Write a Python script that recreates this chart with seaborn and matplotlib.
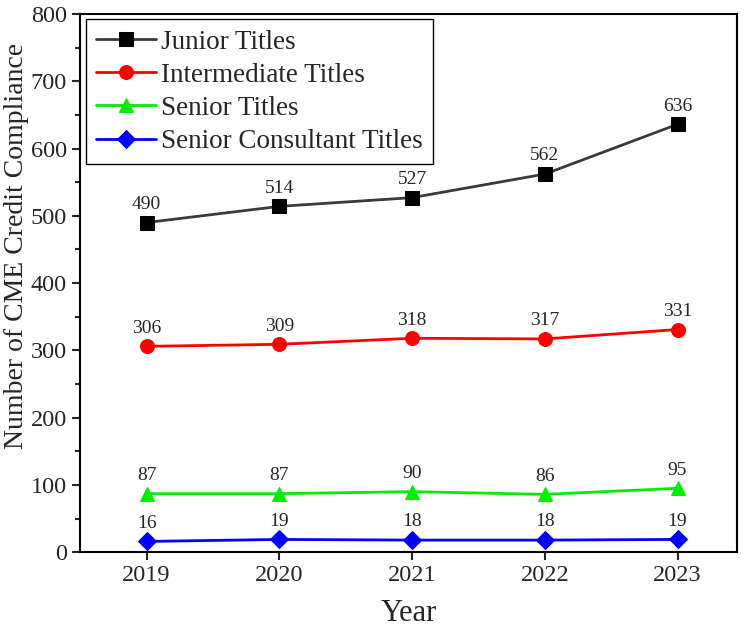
import pandas as pd
import matplotlib
matplotlib.use("Agg")
import matplotlib.pyplot as plt
import seaborn as sns
from matplotlib.ticker import MultipleLocator

years = [2019, 2020, 2021, 2022, 2023]
junior = [490, 514, 527, 562, 636]
intermediate = [306, 309, 318, 317, 331]
senior = [87, 87, 90, 86, 95]
senior_consultant = [16, 19, 18, 18, 19]

series_names = ["Junior Titles", "Intermediate Titles", "Senior Titles", "Senior Consultant Titles"]
series_values = [junior, intermediate, senior, senior_consultant]
colors = ["#3a3a3a", "#ff0000", "#00ee00", "#0000ff"]
marker_colors = ["#000000", "#ff0000", "#00ee00", "#0000ff"]
markers = ["s", "o", "^", "D"]

rows = []
for name, vals in zip(series_names, series_values):
    for y, v in zip(years, vals):
        rows.append({"Year": y, "Count": v, "Series": name})
df = pd.DataFrame(rows)

sns.set_style("ticks")
plt.rcParams["font.family"] = ["Liberation Serif", "DejaVu Serif"]

fig = plt.figure(figsize=(7.5, 6.34), dpi=100)
ax = fig.add_axes([0.107, 0.129, 0.876, 0.849])

for name, vals, c, mc, m in zip(series_names, series_values, colors, marker_colors, markers):
    sub = df[df["Series"] == name]
    sns.lineplot(data=sub, x="Year", y="Count", ax=ax, color=c, marker=m,
                 markersize=10 if m != "D" else 9, markerfacecolor=mc,
                 markeredgecolor=mc, linewidth=2, label=name)
    for x, v in zip(years, vals):
        ax.annotate(str(v), (x, v), textcoords="offset points", xytext=(0, 7),
                    ha="center", va="bottom", fontsize=14)

ax.set_xlim(2018.5, 2023.45)
ax.set_ylim(0, 800)
ax.set_xticks(years)
ax.yaxis.set_major_locator(MultipleLocator(100))
ax.yaxis.set_minor_locator(MultipleLocator(50))
ax.tick_params(axis="both", which="major", direction="out", length=6, width=1.5,
               labelsize=17.5, top=False, right=False)
ax.tick_params(axis="y", which="minor", direction="out", length=3.5, width=1.5)
for s in ax.spines.values():
    s.set_linewidth(1.5)
    s.set_color("black")

ax.set_xlabel("Year", fontsize=22, labelpad=9)
ax.set_ylabel("Number of CME Credit Compliance", fontsize=20)
ax.yaxis.set_label_coords(-0.078, 0.569)

leg = ax.legend(loc="upper left", fontsize=19.5, frameon=True, fancybox=False,
                edgecolor="black", framealpha=1, borderaxespad=0.2,
                handlelength=2.2, labelspacing=0.3, borderpad=0.38, handletextpad=0.2)
leg.get_frame().set_linewidth(1.0)

fig.savefig("out.png", dpi=100)
